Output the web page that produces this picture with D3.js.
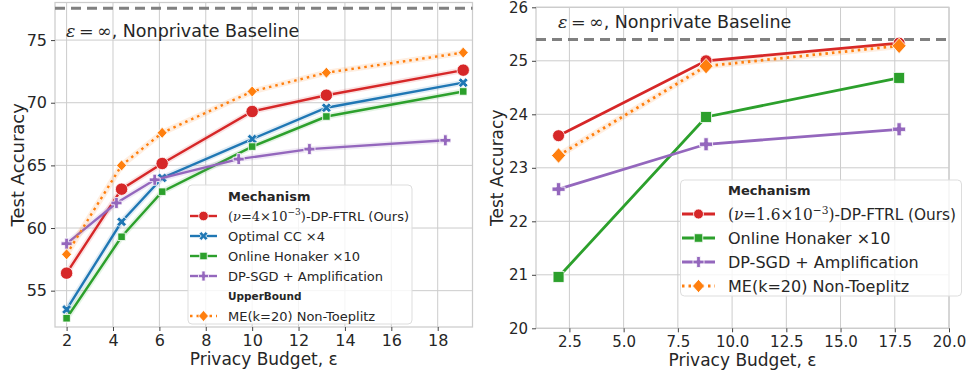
<!DOCTYPE html>
<html>
<head>
<meta charset="utf-8">
<script src="https://cdn.jsdelivr.net/npm/d3@7"></script>
<style>
  body { margin: 0; background: #fff; }
  text { font-family: "DejaVu Sans", sans-serif; fill: #262626; }
</style>
</head>
<body>
<svg id="chart" width="967" height="375"></svg>
<script>
// ---- left panel data ----
const leftEps = [2, 4.37, 6.12, 10, 13.2, 19.1]
const leftSgdEps = [2, 4.15, 5.8, 9.42, 12.47, 18.33]
const leftFtrl = [56.4, 63.1, 65.15, 69.3, 70.6, 72.6]
const leftCC = [53.5, 60.5, 64.0, 67.1, 69.6, 71.6]
const leftHonaker = [52.8, 59.3, 62.9, 66.5, 68.9, 70.9]
const leftSgd = [58.75, 62.0, 63.85, 65.5, 66.3, 67.0]
const leftMe = [57.9, 65.0, 67.6, 70.9, 72.4, 74.0]
const leftBaseline = 77.55
const leftXTicks = [2, 4, 6, 8, 10, 12, 14, 16, 18]
const leftYTicks = [55, 60, 65, 70, 75]

// ---- right panel data ----
const rightEps = [2, 8.8, 17.7]
const rightFtrl = [23.6, 25.0, 25.33]
const rightHonaker = [20.96, 23.95, 24.68]
const rightSgd = [22.6, 23.44, 23.72]
const rightMe = [23.23, 24.9, 25.28]
const rightBaseline = 25.4
const rightXTicks = [2.5, 5, 7.5, 10, 12.5, 15, 17.5, 20]
const rightYTicks = [20, 21, 22, 23, 24, 25, 26]

const colors = {
  ftrl: "#d62728", cc: "#1f77b4", honaker: "#2ca02c", sgd: "#9467bd", me: "#ff7f0e"
}

const svg = d3.select("#chart")

// marker shapes
const markerPath = (type, s) => {
  if (type === "circle") return d3.symbol(d3.symbolCircle, Math.PI * s * s)()
  if (type === "square") return d3.symbol(d3.symbolSquare, s * s)()
  if (type === "plus" || type === "x") return d3.symbol(d3.symbolCross, s * s * 5 / 9)()
  if (type === "diamond") return `M0,${-s * 0.55}L${s * 0.5},0L0,${s * 0.55}L${-s * 0.5},0Z`
}

// math-ish labels built from pieces
const writeLabel = (text, parts) => {
  parts.forEach(p => {
    const t = text.append("tspan").text(p.t)
    if (p.serif) t.style("font-family", "DejaVu Serif")
    if (p.italic) t.style("font-style", "italic")
    if (p.sup) t.attr("dy", "-0.4em").style("font-size", "0.7em")
    if (p.after) t.attr("dy", "0.28em")
  })
}
const ftrlParts = (nu) => [
  { t: "(", serif: true }, { t: "ν", serif: true, italic: true },
  { t: "=", serif: true }, { t: nu, serif: true },
  { t: "×", serif: true }, { t: "10", serif: true },
  { t: "−3", serif: true, sup: true }, { t: ")", serif: true, after: true },
  { t: "-DP-FTRL (Ours)" }
]
const epsParts = [
  { t: "ε", serif: true, italic: true }, { t: "\u2009=\u2009∞", serif: true },
  { t: ", Nonprivate Baseline" }
]

const drawPanel = (cfg) => {
  const g = svg.append("g")
  const xScale = d3.scaleLinear().domain(cfg.xDomain).range([cfg.left, cfg.right])
  const yScale = d3.scaleLinear().domain(cfg.yDomain).range([cfg.bottom, cfg.top])

  // grid
  g.append("g").selectAll("line").data(cfg.xTicks).join("line")
    .attr("x1", d => xScale(d)).attr("x2", d => xScale(d))
    .attr("y1", cfg.top).attr("y2", cfg.bottom)
    .attr("stroke", "#cccccc").attr("stroke-width", 1)
  g.append("g").selectAll("line").data(cfg.yTicks).join("line")
    .attr("x1", cfg.left).attr("x2", cfg.right)
    .attr("y1", d => yScale(d)).attr("y2", d => yScale(d))
    .attr("stroke", "#cccccc").attr("stroke-width", 1)

  // frame
  g.append("rect")
    .attr("x", cfg.left).attr("y", cfg.top)
    .attr("width", cfg.right - cfg.left).attr("height", cfg.bottom - cfg.top)
    .attr("fill", "none").attr("stroke", "#cccccc").attr("stroke-width", 1.25)

  // axes
  const xAxis = g.append("g")
    .attr("transform", `translate(0,${cfg.bottom})`)
    .call(d3.axisBottom(xScale).tickValues(cfg.xTicks).tickSize(4).tickPadding(4)
      .tickFormat(cfg.xFormat))
  const yAxis = g.append("g")
    .attr("transform", `translate(${cfg.left},0)`)
    .call(d3.axisLeft(yScale).tickValues(cfg.yTicks).tickSize(4).tickPadding(4)
      .tickFormat(d3.format("d")))
  ;[xAxis, yAxis].forEach(a => {
    a.select(".domain").remove()
    a.selectAll(".tick line").attr("stroke", "#444")
    a.selectAll(".tick text")
      .style("font-family", "DejaVu Sans").style("font-size", cfg.tickSize + "px")
      .attr("fill", "#262626")
  })

  // axis titles
  g.append("text")
    .attr("x", (cfg.left + cfg.right) / 2).attr("y", cfg.bottom + 38)
    .attr("text-anchor", "middle").style("font-size", cfg.xLabelSize + "px")
    .text("Privacy Budget, ε")
  g.append("text")
    .attr("transform", `translate(${cfg.yLabelX},${(cfg.top + cfg.bottom) / 2}) rotate(-90)`)
    .attr("text-anchor", "middle").attr("dominant-baseline", "central")
    .style("font-size", cfg.yLabelSize + "px")
    .text("Test Accuracy")

  // baseline
  g.append("line")
    .attr("x1", cfg.left).attr("x2", cfg.right)
    .attr("y1", yScale(cfg.baseline)).attr("y2", yScale(cfg.baseline))
    .attr("stroke", "#808080").attr("stroke-width", 3).attr("stroke-dasharray", "10,6")
  const bt = g.append("text")
    .attr("x", cfg.baseTextX).attr("y", cfg.baseTextY)
    .attr("dominant-baseline", "central").style("font-size", "17.5px")
  writeLabel(bt, epsParts)

  // series
  const line = d3.line().x(d => xScale(d[0])).y(d => yScale(d[1]))
  cfg.series.forEach(s => {
    const pts = s.x.map((x, i) => [x, s.y[i]])
    if (s.band) {
      g.append("path").attr("d", line(pts)).attr("fill", "none")
        .attr("stroke", s.color).attr("stroke-opacity", 0.13)
        .attr("stroke-width", cfg.lineWidth + 3.5).attr("stroke-linejoin", "round")
    }
    g.append("path").attr("d", line(pts)).attr("fill", "none")
      .attr("stroke", s.color).attr("stroke-width", cfg.lineWidth)
      .attr("stroke-dasharray", s.dotted ? "2.5,4" : null)
    g.append("g").selectAll("path").data(pts).join("path")
      .attr("d", markerPath(s.marker, cfg.markerSize[s.marker]))
      .attr("transform", d => `translate(${xScale(d[0])},${yScale(d[1])}) rotate(${s.marker === "x" ? 45 : 0})`)
      .attr("fill", s.color).attr("stroke", "#fff").attr("stroke-width", 0.8)
  })

  // legend
  const lg = cfg.legend
  g.append("rect")
    .attr("x", lg.x).attr("y", lg.y).attr("width", lg.w).attr("height", lg.h)
    .attr("rx", 4).attr("fill", "#fff").attr("fill-opacity", 0.8)
    .attr("stroke", "#dddddd").attr("stroke-width", 1)
  lg.rows.forEach((r, i) => {
    const cy = lg.firstY + i * lg.step
    if (r.title) {
      g.append("text").attr("x", lg.textX).attr("y", cy)
        .attr("dominant-baseline", "central")
        .style("font-size", r.size + "px").style("font-weight", "bold")
        .text(r.title)
      return
    }
    const s = r.series
    g.append("line")
      .attr("x1", lg.lineX0).attr("x2", lg.lineX1).attr("y1", cy).attr("y2", cy)
      .attr("stroke", s.color).attr("stroke-width", cfg.lineWidth)
      .attr("stroke-dasharray", s.dotted ? "2.5,4" : null)
    g.append("path")
      .attr("d", markerPath(s.marker, lg.markerSize[s.marker]))
      .attr("transform", `translate(${(lg.lineX0 + lg.lineX1) / 2},${cy}) rotate(${s.marker === "x" ? 45 : 0})`)
      .attr("fill", s.color).attr("stroke", "#fff").attr("stroke-width", 0.8)
    const t = g.append("text").attr("x", lg.textX).attr("y", cy)
      .attr("dominant-baseline", "central").style("font-size", lg.fontSize + "px")
    if (s.parts) {
      writeLabel(t, s.parts)
      t.attr("textLength", s.labelWidth).attr("lengthAdjust", "spacingAndGlyphs")
    } else t.text(s.label)
  })
}

// ---- left panel ----
const lFtrl = { x: leftEps, y: leftFtrl, color: colors.ftrl, marker: "circle", band: true, parts: ftrlParts("4"), labelWidth: 181 }
const lCC = { x: leftEps, y: leftCC, color: colors.cc, marker: "x", band: true, label: "Optimal CC ×4" }
const lHon = { x: leftEps, y: leftHonaker, color: colors.honaker, marker: "square", band: true, label: "Online Honaker ×10" }
const lSgd = { x: leftSgdEps, y: leftSgd, color: colors.sgd, marker: "plus", band: true, label: "DP-SGD + Amplification" }
const lMe = { x: leftEps, y: leftMe, color: colors.me, marker: "diamond", band: true, dotted: true, label: "ME(k=20) Non-Toeplitz" }

drawPanel({
  left: 55, right: 472.5, top: 2.5, bottom: 327,
  xDomain: [1.5, 19.5], yDomain: [52.1, 78.0],
  xTicks: leftXTicks, yTicks: leftYTicks, xFormat: d3.format("d"),
  tickSize: 16, xLabelSize: 17, yLabelSize: 18, yLabelX: 17,
  baseline: leftBaseline, baseTextX: 66, baseTextY: 31,
  lineWidth: 2.4,
  markerSize: { circle: 6.2, square: 7.5, x: 10.5, plus: 11, diamond: 10 },
  series: [lFtrl, lCC, lHon, lSgd, lMe],
  legend: {
    x: 188, y: 185, w: 224, h: 139, textX: 228, lineX0: 190, lineX1: 217,
    firstY: 196, step: 20, fontSize: 13,
    markerSize: { circle: 4.8, square: 7.5, x: 9.5, plus: 10, diamond: 10 },
    rows: [
      { title: "Mechanism", size: 13 },
      { series: lFtrl }, { series: lCC }, { series: lHon }, { series: lSgd },
      { title: "UpperBound", size: 10.5 },
      { series: lMe }
    ]
  }
})

// ---- right panel ----
const rFtrl = { x: rightEps, y: rightFtrl, color: colors.ftrl, marker: "circle", parts: ftrlParts("1.6"), labelWidth: 228 }
const rHon = { x: rightEps, y: rightHonaker, color: colors.honaker, marker: "square", label: "Online Honaker ×10" }
const rSgd = { x: rightEps, y: rightSgd, color: colors.sgd, marker: "plus", label: "DP-SGD + Amplification" }
const rMe = { x: rightEps, y: rightMe, color: colors.me, marker: "diamond", band: true, dotted: true, label: "ME(k=20) Non-Toeplitz" }

drawPanel({
  left: 536, right: 949, top: 7.3, bottom: 328.3,
  xDomain: [0.96, 20], yDomain: [20, 26],
  xTicks: rightXTicks, yTicks: rightYTicks, xFormat: d3.format(".1f"),
  tickSize: 15, xLabelSize: 17, yLabelSize: 17, yLabelX: 497,
  baseline: rightBaseline, baseTextX: 558, baseTextY: 22,
  lineWidth: 2.8,
  markerSize: { circle: 6, square: 11, x: 12, plus: 13, diamond: 14 },
  series: [rFtrl, rHon, rSgd, rMe],
  legend: {
    x: 680.5, y: 180, w: 281, h: 116, textX: 728, lineX0: 682, lineX1: 715,
    firstY: 190, step: 24, fontSize: 16,
    markerSize: { circle: 5, square: 8.5, x: 10, plus: 11, diamond: 12 },
    rows: [
      { title: "Mechanism", size: 13 },
      { series: rFtrl }, { series: rHon }, { series: rSgd }, { series: rMe }
    ]
  }
})
</script>
</body>
</html>
